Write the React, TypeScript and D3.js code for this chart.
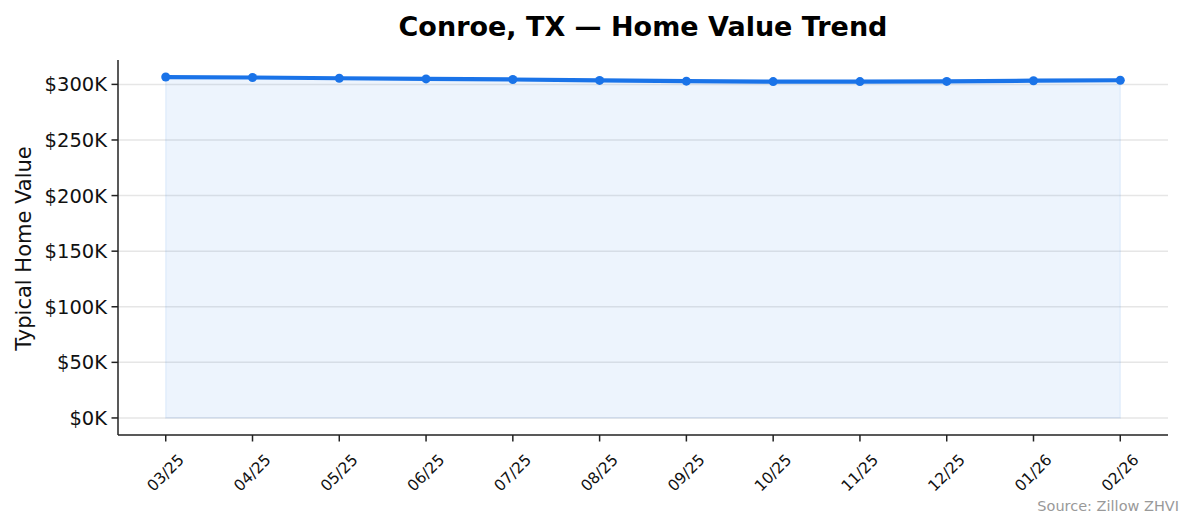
import React from "react"
import * as d3 from "d3"

const months = ["03/25", "04/25", "05/25", "06/25", "07/25", "08/25", "09/25", "10/25", "11/25", "12/25", "01/26", "02/26"]
const homeValues = [306600, 306200, 305500, 304900, 304400, 303600, 302900, 302500, 302500, 302700, 303300, 303700]
const yTicks = [0, 50000, 100000, 150000, 200000, 250000, 300000]

const width = 1194
const height = 529
const margin = { top: 60, right: 26, bottom: 94, left: 118 }
const lineColor = "#1a73e8"
const font = "DejaVu Sans, sans-serif"

export default function App() {
  const innerW = width - margin.left - margin.right
  const innerH = height - margin.top - margin.bottom

  // matplotlib-style 5% margins on both axes
  const n = months.length
  const x = d3
    .scaleLinear()
    .domain([-0.05 * (n - 1), (n - 1) * 1.05])
    .range([0, innerW])
  const maxV = d3.max(homeValues) as number
  const y = d3
    .scaleLinear()
    .domain([-0.05 * maxV, maxV * 1.05])
    .range([innerH, 0])

  const line = d3
    .line<number>()
    .x((_, i) => x(i))
    .y((d) => y(d))
  const area = d3
    .area<number>()
    .x((_, i) => x(i))
    .y0(y(0))
    .y1((d) => y(d))

  const fmt = (v: number) => `$${Math.round(v / 1000)}K`

  return (
    <div style={{ position: "absolute", left: 0, top: 0 }}>
      <svg width={width} height={height} style={{ display: "block", background: "#fff" }} fontFamily={font}>
        <text x={margin.left + innerW / 2} y={36} textAnchor="middle" fontSize={27} fontWeight="bold" fill="#000">
          Conroe, TX — Home Value Trend
        </text>
        <g transform={`translate(${margin.left},${margin.top})`}>
          {yTicks.map((t) => (
            <line key={"g" + t} x1={0} x2={innerW} y1={y(t)} y2={y(t)} stroke="#e6e6e6" strokeWidth={1.5} />
          ))}
          <path d={area(homeValues) as string} fill={lineColor} fillOpacity={0.08} stroke={lineColor} strokeOpacity={0.08} strokeWidth={1.5} />
          <path d={line(homeValues) as string} fill="none" stroke={lineColor} strokeWidth={4.2} strokeLinejoin="round" strokeLinecap="round" />
          {homeValues.map((v, i) => (
            <circle key={i} cx={x(i)} cy={y(v)} r={4.5} fill={lineColor} />
          ))}
          {/* y axis */}
          <line x1={0} x2={0} y1={0} y2={innerH} stroke="#222" strokeWidth={1.5} />
          {yTicks.map((t) => (
            <g key={"y" + t} transform={`translate(0,${y(t)})`}>
              <line x1={-6.5} x2={0} stroke="#222" strokeWidth={1.5} />
              <text x={-11} dy="0.36em" textAnchor="end" fontSize={19.5} fill="#111">
                {fmt(t)}
              </text>
            </g>
          ))}
          {/* x axis */}
          <line x1={0} x2={innerW} y1={innerH} y2={innerH} stroke="#222" strokeWidth={1.5} />
          {months.map((m, i) => (
            <g key={m} transform={`translate(${x(i)},${innerH})`}>
              <line y1={0} y2={6.5} stroke="#222" strokeWidth={1.5} />
              <text
                transform="translate(0,38) rotate(-45)"
                textAnchor="middle"
                dominantBaseline="central"
                fontSize={15.5}
                fill="#111"
              >
                {m}
              </text>
            </g>
          ))}
        </g>
        <text
          transform={`translate(31,${margin.top + innerH / 2 + 1}) rotate(-90)`}
          textAnchor="middle"
          fontSize={21}
          fill="#111"
        >
          Typical Home Value
        </text>
        <text x={1179} y={511} textAnchor="end" fontSize={14.5} fill="#999">
          Source: Zillow ZHVI
        </text>
      </svg>
    </div>
  )
}
